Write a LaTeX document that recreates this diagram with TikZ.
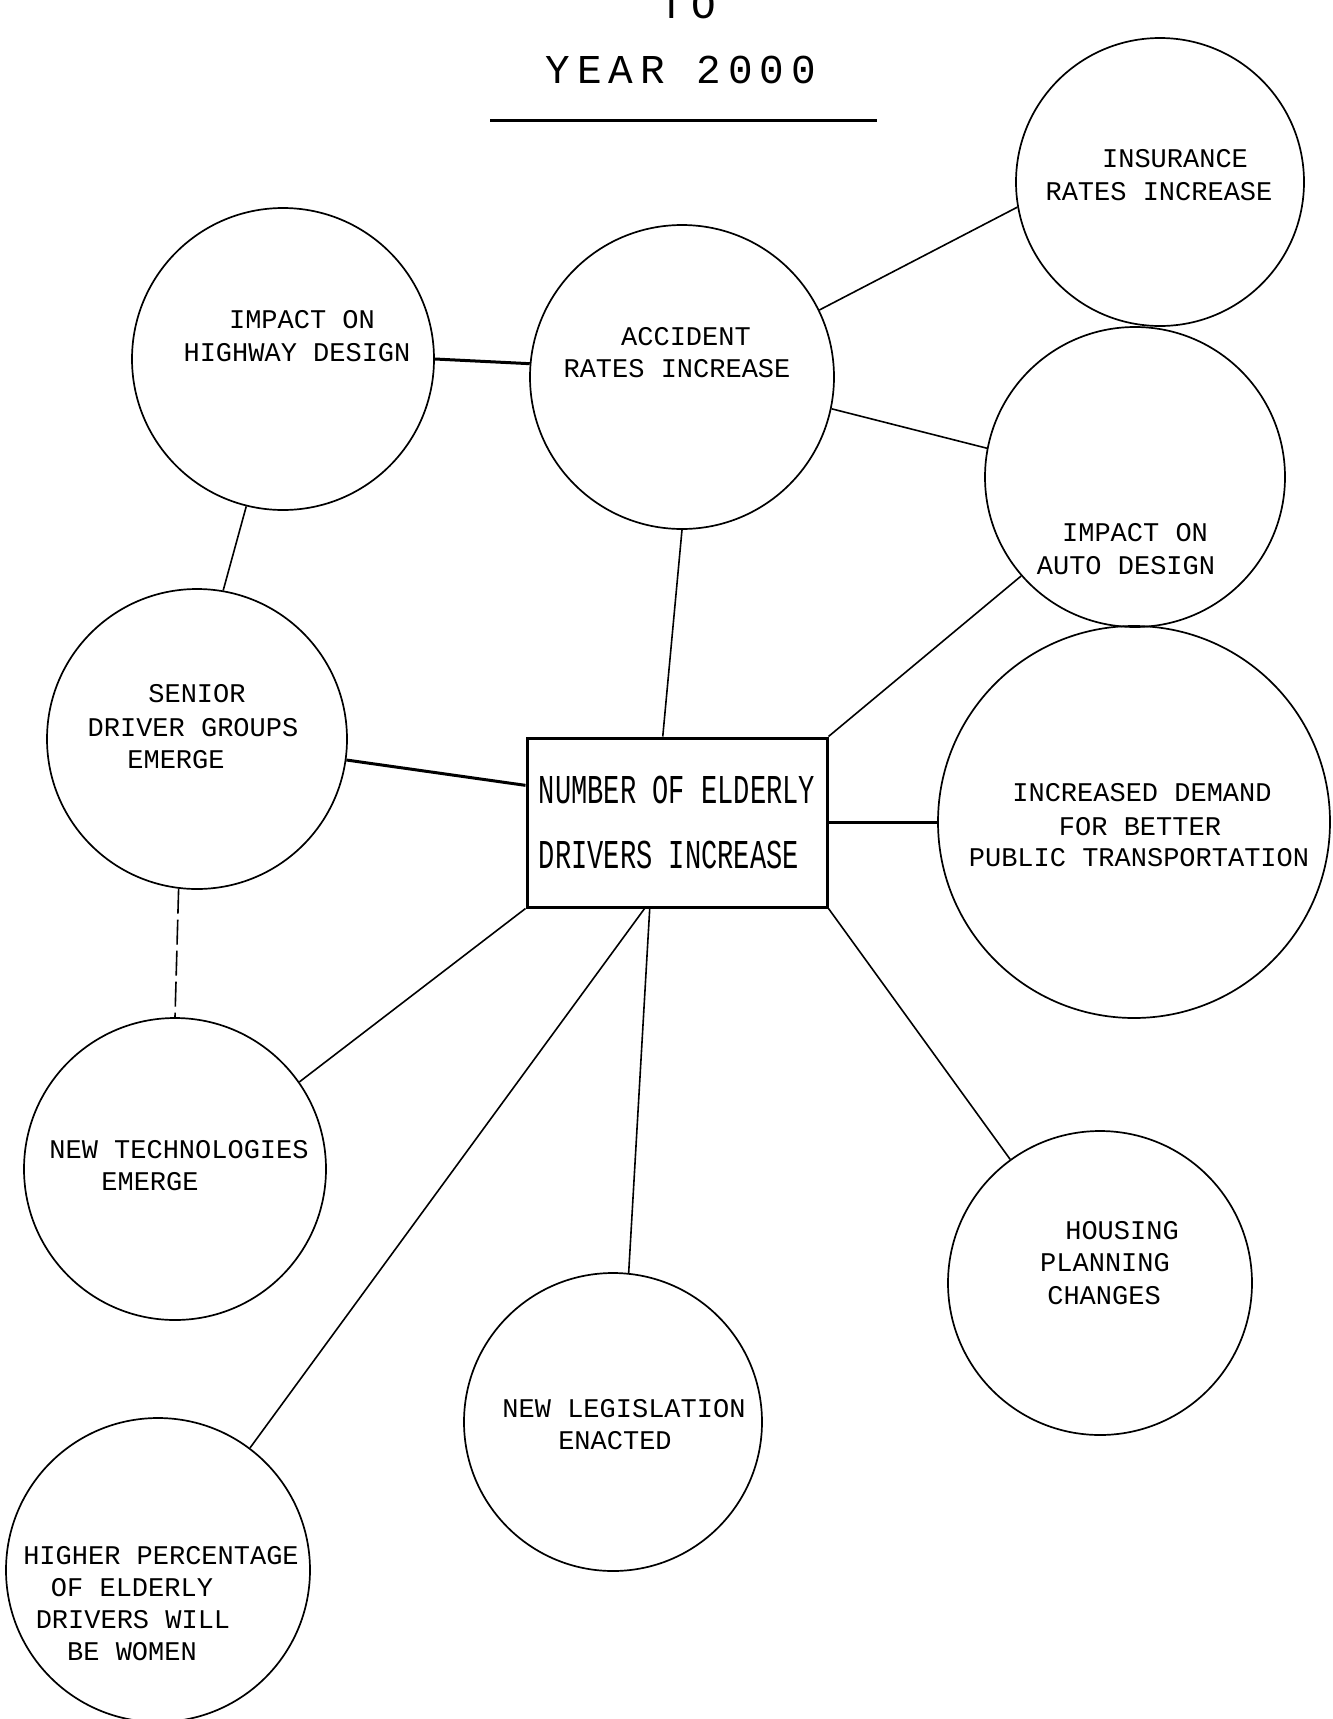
\documentclass[tikz,border=0pt]{standalone}
\usepackage{fontspec}
\usetikzlibrary{calc}
\newfontfamily\typefont{Liberation Mono}
\newfontfamily\boxfont[FakeStretch=0.66]{Liberation Mono}
\newfontfamily\titlefont[LetterSpace=17]{Liberation Mono}
\begin{document}
\begin{tikzpicture}[x=1pt,y=-1pt,
  circ/.style={circle, draw, line width=1.7pt, inner sep=0pt},
  lbl/.style={font=\typefont\fontsize{27}{33}\selectfont, inner sep=0pt},
  ttl/.style={font=\titlefont\fontsize{41}{41}\selectfont, inner sep=0pt},
  thin/.style={line width=1.6pt},
  thick/.style={line width=3pt},
  centerbox/.style={draw, line width=3pt, minimum width=300pt, minimum height=169pt,
    inner sep=0pt, align=left, font=\boxfont\fontsize{41}{65}\selectfont}]
\fill[white] (0,0) rectangle (1333,1719);
\useasboundingbox (0,0) rectangle (1333,1719);

% title
\node[ttl] (to) at (688,4.5) {TO};
\node[ttl] (year) at (681,70) {YEAR 2000};
\draw[line width=3pt] (490,120) -- (877,120);

% circles
\node[circ, minimum size=288pt] (ins) at (1160,182) {};
\node[circ, minimum size=304pt] (acc) at (682,377) {};
\node[circ, minimum size=302pt] (hw) at (283,359) {};
\node[circ, minimum size=300pt] (auto) at (1135,477) {};
\node[circ, minimum size=300pt] (sen) at (197,739) {};
\node[circ, minimum size=392pt] (pub) at (1134,822) {};
\node[circ, minimum size=302pt] (nt) at (175,1169) {};
\node[circ, minimum size=304pt] (hou) at (1100,1283) {};
\node[circ, minimum size=298pt] (leg) at (613,1422) {};
\node[circ, minimum size=304pt] (hp) at (158,1570) {};

% central box
\node[centerbox] (box) at (677,822.5) {NUMBER OF ELDERLY\\DRIVERS INCREASE};

% labels
\node[lbl] (insA) at (1175,159) {INSURANCE};
\node[lbl] (insB) at (1159,192) {RATES INCREASE};
\node[lbl] (hwA) at (302,320) {IMPACT ON};
\node[lbl] (hwB) at (297,353) {HIGHWAY DESIGN};
\node[lbl] (accA) at (686,337) {ACCIDENT};
\node[lbl] (accB) at (677,369) {RATES INCREASE};
\node[lbl] (autoA) at (1135,533) {IMPACT ON};
\node[lbl] (autoB) at (1126,566) {AUTO DESIGN};
\node[lbl] (senA) at (197,694) {SENIOR};
\node[lbl] (senB) at (193,728) {DRIVER GROUPS};
\node[lbl] (senC) at (176,760) {EMERGE};
\node[lbl] (pubA) at (1142,793) {INCREASED DEMAND};
\node[lbl] (pubB) at (1140,827) {FOR BETTER};
\node[lbl] (pubC) at (1139,858) {PUBLIC TRANSPORTATION};
\node[lbl] (ntA) at (179,1150) {NEW TECHNOLOGIES};
\node[lbl] (ntB) at (150,1182) {EMERGE};
\node[lbl] (houA) at (1122,1231) {HOUSING};
\node[lbl] (houB) at (1105,1263) {PLANNING};
\node[lbl] (houC) at (1104,1296) {CHANGES};
\node[lbl] (legA) at (624,1409) {NEW LEGISLATION};
\node[lbl] (legB) at (615,1441) {ENACTED};
\node[lbl] (hpA) at (161,1556) {HIGHER PERCENTAGE};
\node[lbl] (hpB) at (132,1588) {OF ELDERLY};
\node[lbl] (hpC) at (133,1620) {DRIVERS WILL};
\node[lbl] (hpD) at (132,1652) {BE WOMEN};

% connectors
\draw[thick] (hw.0) -- (acc.175);
\draw[thin] (acc.26) -- (ins.190);
\draw[thin] (acc.-12) -- (auto.169);
\draw[thin] (hw.-104) -- (sen.80);
\draw[thin] (acc.south) -- ($(box.north west)!0.453!(box.north east)$);
\draw[thin] (auto.221) -- (box.north east);
\draw[thick] (sen.-8) -- ($(box.north west)!0.284!(box.south west)$);
\draw[thin, dash pattern=on 25pt off 6pt] (sen.-97) -- (nt.90);
\draw[thick] (box.east) -- (box.east -| pub.west);
\draw[thin] (box.south west) -- (nt.35.5);
\draw[thin] ($(box.south west)!0.393!(box.south east)$) -- (hp.53);
\draw[thin] ($(box.south west)!0.41!(box.south east)$) -- (leg.84);
\draw[thin] (box.south east) -- (hou.126);
\end{tikzpicture}
\end{document}
